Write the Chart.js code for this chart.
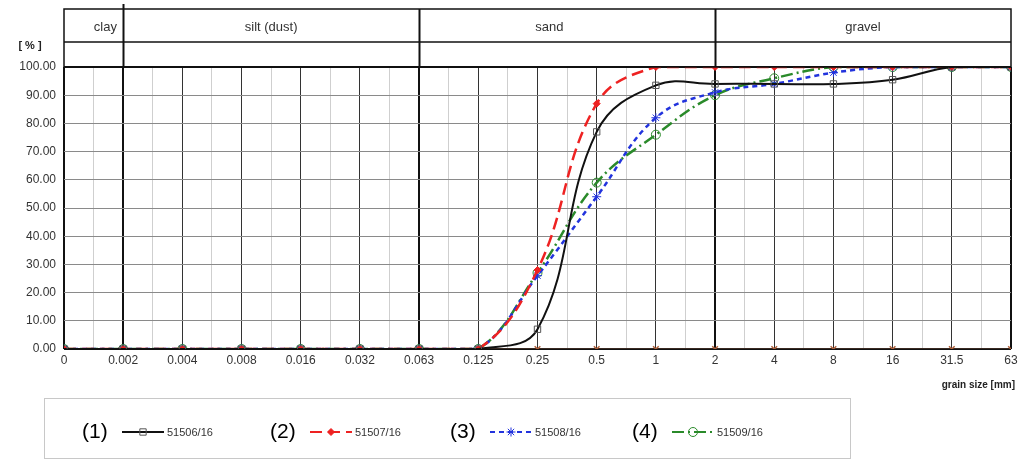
<!DOCTYPE html>
<html>
<head>
<meta charset="utf-8">
<script src="https://cdn.jsdelivr.net/npm/chart.js"></script>
<style>
  body { margin: 0; background: #fff; }
  #wrap { width: 1036px; height: 461px; }
</style>
</head>
<body>
<div id="wrap"><canvas id="grain" width="1036" height="461"></canvas></div>
<script>
// grain sizes (equally spaced categories on the x axis)
const sizes = ['0', '0.002', '0.004', '0.008', '0.016', '0.032', '0.063', '0.125', '0.25', '0.5', '1', '2', '4', '8', '16', '31.5', '63'];
const yTicks = [0, 10, 20, 30, 40, 50, 60, 70, 80, 90, 100];

// passing [%]
const s51506 = [0, 0, 0, 0, 0, 0, 0, 0, 7, 77, 93.5, 94, 94, 94, 95.5, 100, 100];
const s51507 = [0, 0, 0, 0, 0, 0, 0, 0, 28, 87, 100, 100, 100, 100, 100, 100, 100];
const s51508 = [0, 0, 0, 0, 0, 0, 0, 0, 26, 54, 82, 91, 94, 98, 100, 100, 100];
const s51509 = [0, 0, 0, 0, 0, 0, 0, 0, 27, 59, 76, 90, 96, 100, 100, 100, 100];
const baseline = [0, 0, 0, 0, 0, 0, 0, 0, 0, 0, 0, 0, 0, 0, 0, 0, 0];

const seriesNames = ['51506/16', '51507/16', '51508/16', '51509/16'];

// soil classes: [label, from index, label position]
const zones = [
  ['clay', 0, 0.7],
  ['silt (dust)', 1, 3.5],
  ['sand', 6, 8.2],
  ['gravel', 11, 13.5]
];

const pts = arr => arr.map((v, i) => ({ x: i, y: v }));
const font = "'Liberation Sans', Arial, sans-serif";

const headerPlugin = {
  id: 'header',
  afterDraw(chart) {
    const { ctx, chartArea, scales } = chart;
    const x = scales.x;
    const top = 9, mid = 42, bot = chartArea.top;
    const right = chartArea.right;
    ctx.save();
    ctx.strokeStyle = '#111';
    ctx.lineWidth = 1.5;
    ctx.strokeRect(chartArea.left, top, right - chartArea.left, bot - top);
    ctx.beginPath();
    ctx.moveTo(chartArea.left, mid);
    ctx.lineTo(right, mid);
    ctx.stroke();
    ctx.fillStyle = '#333';
    ctx.font = '13px ' + font;
    ctx.textAlign = 'center';
    ctx.textBaseline = 'middle';
    zones.forEach(([label, from, pos]) => {
      if (from > 0) {
        const px = Math.round(x.getPixelForValue(from)) + 0.5;
        ctx.lineWidth = 2;
        ctx.beginPath();
        ctx.moveTo(px, from === 1 ? 4 : top);
        ctx.lineTo(px, bot);
        ctx.stroke();
      }
      ctx.fillText(label, x.getPixelForValue(pos), 27);
    });
    // axis titles
    ctx.fillStyle = '#222';
    ctx.font = 'bold 11px ' + font;
    ctx.fillText('[ % ]', 30, 46);
    ctx.textAlign = 'right';
    ctx.font = 'bold 10px ' + font;
    ctx.fillText('grain size [mm]', right + 4, 385);
    ctx.restore();
  }
};

const legendPlugin = {
  id: 'boxLegend',
  afterDraw(chart) {
    const { ctx } = chart;
    ctx.save();
    ctx.strokeStyle = '#c8c8c8';
    ctx.lineWidth = 1;
    ctx.strokeRect(44.5, 398.5, 806, 60);
    const starts = [82, 270, 450, 632];
    const cy = 432;
    seriesNames.forEach((name, i) => {
      const ds = chart.data.datasets[i];
      let xx = starts[i];
      ctx.fillStyle = '#000';
      ctx.font = "21px 'Liberation Sans Narrow', 'Liberation Sans', sans-serif";
      ctx.textAlign = 'left';
      ctx.textBaseline = 'middle';
      ctx.fillText('(' + (i + 1) + ')', xx, cy);
      xx += 40;
      ctx.strokeStyle = ds.borderColor;
      ctx.lineWidth = 2;
      ctx.setLineDash(ds.borderDash || []);
      ctx.beginPath();
      ctx.moveTo(xx, cy);
      ctx.lineTo(xx + 42, cy);
      ctx.stroke();
      ctx.setLineDash([]);
      ctx.fillStyle = ds.pointBackgroundColor;
      ctx.strokeStyle = ds.pointBorderColor;
      ctx.lineWidth = 1;
      Chart.helpers.drawPoint(ctx, {
        pointStyle: ds.pointStyle, radius: ds.pointRadius, rotation: 0, borderWidth: 1
      }, xx + 21, cy);
      ctx.fillStyle = '#333';
      ctx.font = '11px ' + font;
      ctx.fillText(name, xx + 45, cy + 1);
    });
    ctx.restore();
  }
};

new Chart(document.getElementById('grain'), {
  type: 'line',
  data: {
    datasets: [
      {
        label: seriesNames[0], data: pts(s51506), order: 1,
        borderColor: '#111', borderWidth: 2, tension: 0.4,
        pointStyle: 'rect', pointRadius: 4.5, pointBorderWidth: 1,
        pointBorderColor: '#555', pointBackgroundColor: 'rgba(255,255,255,0)'
      },
      {
        label: seriesNames[1], data: pts(s51507), order: 2,
        borderColor: '#ee2222', borderWidth: 2.5, borderDash: [12, 6], tension: 0.4,
        pointStyle: 'rectRot', pointRadius: 3.5, pointBorderWidth: 1,
        pointBorderColor: '#ee2222', pointBackgroundColor: '#ee2222'
      },
      {
        label: seriesNames[2], data: pts(s51508), order: 3,
        borderColor: '#2233dd', borderWidth: 2.5, borderDash: [5, 4], tension: 0.4,
        pointStyle: 'star', pointRadius: 4.5, pointBorderWidth: 1,
        pointBorderColor: '#2233dd', pointBackgroundColor: 'rgba(255,255,255,0)'
      },
      {
        label: seriesNames[3], data: pts(s51509), order: 4,
        borderColor: '#2a8a2a', borderWidth: 2.5, borderDash: [12, 4, 2, 4], tension: 0.4,
        pointStyle: 'circle', pointRadius: 4.5, pointBorderWidth: 1,
        pointBorderColor: '#2a8a2a', pointBackgroundColor: 'rgba(255,255,255,0)'
      },
      {
        label: 'base', data: pts(baseline), order: 5,
        borderColor: '#3a2a22', borderWidth: 2, tension: 0,
        pointStyle: 'crossRot', pointRadius: 4, pointBorderWidth: 1.5,
        pointBorderColor: '#b0603a', pointBackgroundColor: '#b0603a'
      }
    ]
  },
  options: {
    responsive: false,
    animation: false,
    layout: { padding: { top: 67, right: 25, bottom: 0, left: 0 } },
    plugins: { legend: { display: false }, tooltip: { enabled: false } },
    scales: {
      x: {
        type: 'linear', min: 0, max: 16,
        afterFit: s => { s.height = 112; },
        border: { display: false },
        ticks: {
          stepSize: 0.5, autoSkip: false, maxRotation: 0, padding: 4,
          color: '#333', font: { family: font, size: 12 },
          callback: v => Number.isInteger(v) ? sizes[v] : ''
        },
        grid: {
          drawTicks: false,
          color: c => {
            const v = c.tick.value;
            if (!Number.isInteger(v)) return '#cfcfcf';
            return (v === 1 || v === 6 || v === 11 || v === 0 || v === 16) ? '#111' : '#333';
          },
          lineWidth: c => {
            const v = c.tick.value;
            return (v === 1 || v === 6 || v === 11 || v === 0 || v === 16) ? 2 : 1;
          }
        }
      },
      y: {
        min: 0, max: 100,
        afterFit: s => { s.width = 64; },
        afterBuildTicks: s => { s.ticks = yTicks.map(v => ({ value: v })); },
        border: { display: false },
        ticks: {
          padding: 8, color: '#333', font: { family: font, size: 12 },
          callback: v => v.toFixed(2)
        },
        grid: {
          drawTicks: false,
          color: c => (c.tick.value === 100 || c.tick.value === 0) ? '#111' : '#8a8a8a',
          lineWidth: c => (c.tick.value === 100 || c.tick.value === 0) ? 2 : 1
        }
      }
    }
  },
  plugins: [headerPlugin, legendPlugin]
});
</script>
</body>
</html>
